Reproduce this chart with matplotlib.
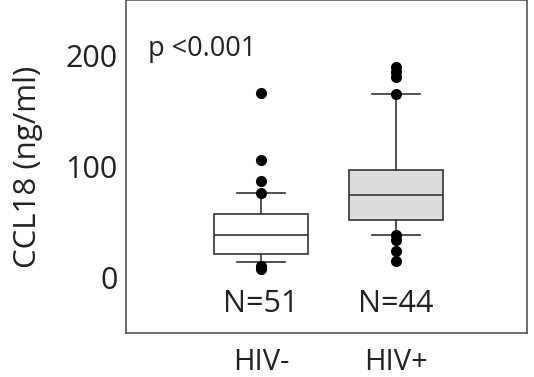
import matplotlib
matplotlib.use("Agg")
import matplotlib.pyplot as plt

plt.rcParams['font.family'] = ['Open Sans', 'DejaVu Sans']

# group labels and counts
groups = ['HIV-', 'HIV+']
counts = [51, 44]

# box stats (ng/ml)
q1 = [21.5, 52]
medians = [38.5, 74]
q3 = [57.5, 97]
whis_lo = [13.5, 38.5]
whis_hi = [76.5, 165]
outliers = [
    [166.5, 106, 87, 76.5, 10, 8],
    [190, 185.5, 181, 165, 38.5, 34, 23.5, 15],
]
box_colors = ['white', '#dcdddf']

# build bxp stats
stats = []
for i in range(len(groups)):
    stats.append({
        'med': medians[i], 'q1': q1[i], 'q3': q3[i],
        'whislo': whis_lo[i], 'whishi': whis_hi[i],
        'fliers': outliers[i], 'label': groups[i],
    })

fig = plt.figure(figsize=(5.34, 3.77), dpi=100)
ax = fig.add_axes([0.236, 0.117, 0.751, 0.883])

bp = ax.bxp(stats, positions=[1, 2], widths=0.7, patch_artist=True,
            medianprops=dict(color='#333333', lw=1.2),
            whiskerprops=dict(color='#333333', lw=1.2),
            capprops=dict(color='#333333', lw=1.2),
            boxprops=dict(edgecolor='#333333', lw=1.2),
            flierprops=dict(marker='o', markerfacecolor='black',
                            markeredgecolor='black', markersize=7))
for patch, c in zip(bp['boxes'], box_colors):
    patch.set_facecolor(c)

ax.set_xlim(0, 2.97)
ax.set_ylim(-50, 250)
ax.set_yticks([0, 100, 200])
ax.tick_params(axis='y', length=0, labelsize=22, colors='#222222', pad=6)
ax.tick_params(axis='x', length=0, labelsize=21, colors='#222222', pad=11)
ax.set_ylabel('CCL18 (ng/ml)', fontsize=22.5, color='#222222', labelpad=16)
for s in ax.spines.values():
    s.set_color('#555555')
    s.set_linewidth(1.2)

# sample size labels
for i, n in enumerate(counts):
    ax.text(i + 1, -24, f'N={n}', ha='center', va='center', fontsize=22, color='#222222')

ax.text(0.16, 206, 'p <0.001', ha='left', va='center', fontsize=19.5, color='#222222')

fig.savefig('out.png', dpi=100)
